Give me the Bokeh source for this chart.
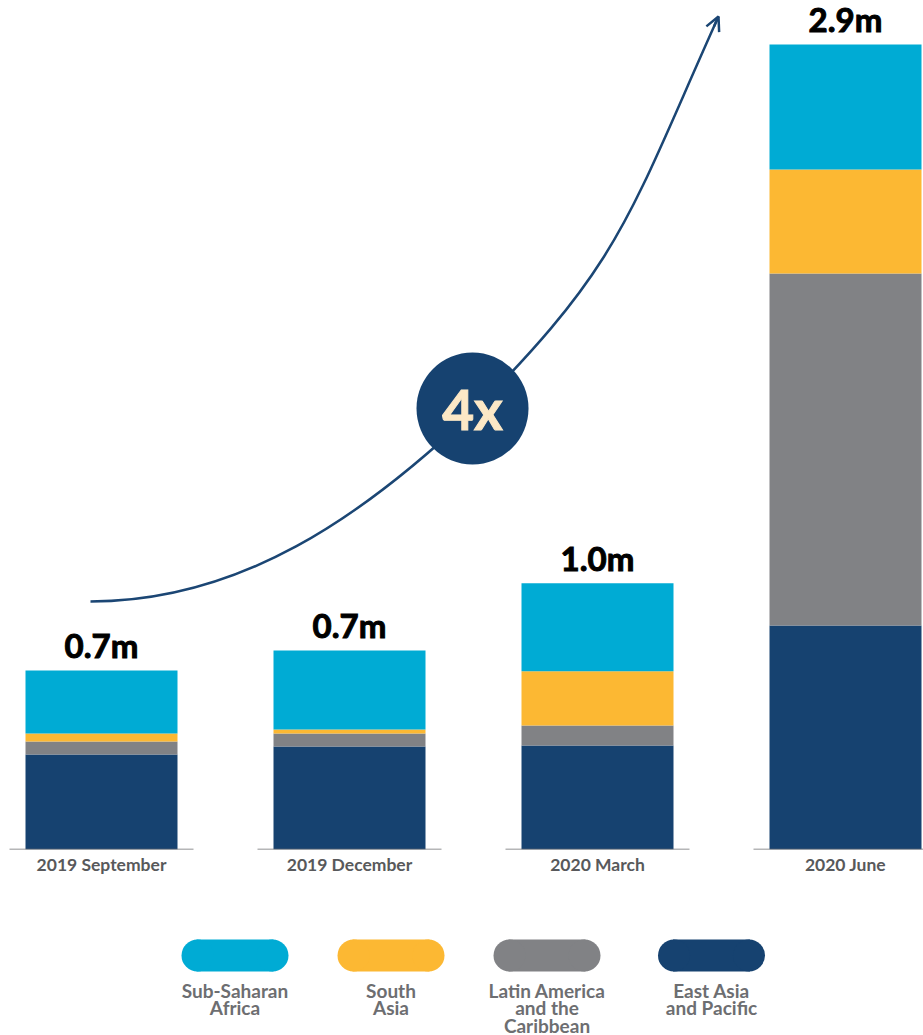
from bokeh.plotting import figure
from bokeh.models import ColumnDataSource, Range1d, FixedTicker, Arrow, OpenHead
from bokeh.layouts import column
from bokeh.core.properties import value
from bokeh.embed import file_html
from bokeh.resources import INLINE

# ---------------- data (millions) ----------------
CATEGORIES = ["2019 September", "2019 December", "2020 March", "2020 June"]
EAST_ASIA_PACIFIC = [0.342, 0.371, 0.375, 0.807]
LATIN_AMERICA_CARIB = [0.047, 0.047, 0.072, 1.268]
SOUTH_ASIA = [0.029, 0.014, 0.195, 0.375]
SUB_SAHARAN_AFRICA = [0.227, 0.285, 0.317, 0.450]
TOTAL_LABELS = ["0.7m", "0.7m", "1.0m", "2.9m"]
GROWTH_LABEL = "4x"

LEGEND_LABELS = ["Sub-Saharan\nAfrica", "South\nAsia", "Latin America\nand the\nCaribbean", "East Asia\nand Pacific"]

# growth arrow (two cubic segments, data units: category index / millions)
CURVE_A_X = [-0.0444, 0.5605, 1.0524, 1.4960]
CURVE_A_Y = [0.8934, 0.8934, 1.1978, 1.5742]
CURVE_B_X = [1.4960, 2.1008, 2.1234, 2.4879]
CURVE_B_Y = [1.5742, 2.1145, 2.2781, 3.0007]
BADGE_X = [1.496]
BADGE_Y = [1.5886]

# ---------------- styling ----------------
NAVY = "#164270"
GRAY = "#818285"
YELLOW = "#fcb833"
CYAN = "#00abd4"
LINE_NAVY = "#1b4674"
BADGE_TEXT = "#fce8c6"
AXIS_TEXT = "#58595b"
LEGEND_TEXT = "#6d6e71"

W = 923
FRAME_H = 849
MAIN_H = 889
LEG_H = 1035 - MAIN_H
PX_PER_CAT = 248.0
PX_PER_M = 277.6
FIRST_CENTER_PX = 101.0

xs = list(range(len(CATEGORIES)))
totals = [a + b + c + d for a, b, c, d in zip(EAST_ASIA_PACIFIC, LATIN_AMERICA_CARIB, SOUTH_ASIA, SUB_SAHARAN_AFRICA)]
label_gap = 25 / PX_PER_M

src = ColumnDataSource(dict(
    x=xs,
    eap=EAST_ASIA_PACIFIC,
    lac=LATIN_AMERICA_CARIB,
    sa=SOUTH_ASIA,
    ssa=SUB_SAHARAN_AFRICA,
))
lab_src = ColumnDataSource(dict(x=xs, ypos=[t + label_gap for t in totals], label=TOTAL_LABELS))

x0 = -FIRST_CENTER_PX / PX_PER_CAT
p = figure(
    width=W, height=MAIN_H,
    x_range=Range1d(x0, x0 + W / PX_PER_CAT),
    y_range=Range1d(0, FRAME_H / PX_PER_M),
    output_backend="svg", toolbar_location=None,
    y_axis_location=None, x_axis_location="below",
    min_border_left=0, min_border_right=0, min_border_top=0, min_border_bottom=MAIN_H - FRAME_H,
    outline_line_color=None,
    background_fill_color="white", border_fill_color="white",
)
p.grid.visible = False

bar_w = 152 / PX_PER_CAT
p.vbar_stack(["eap", "lac", "sa", "ssa"], x="x", width=bar_w,
             color=[NAVY, GRAY, YELLOW, CYAN], line_color=None, source=src)

# baseline segments under each bar
half_seg = 92 / PX_PER_CAT
p.segment(x0=[x - half_seg for x in xs], y0=[0] * len(xs),
          x1=[x + half_seg for x in xs], y1=[0] * len(xs),
          line_color="#6d6e71", line_width=1.5)

# total labels
p.text(x="x", y="ypos", text="label", source=lab_src,
       text_align="center", text_baseline="middle",
       text_font=value("Lato"), text_font_style="bold",
       text_font_size="33px", text_color="black", text_outline_color="black")

# growth arrow
for cx, cy in ((CURVE_A_X, CURVE_A_Y), (CURVE_B_X, CURVE_B_Y)):
    p.bezier(x0=[cx[0]], y0=[cy[0]], cx0=[cx[1]], cy0=[cy[1]],
             cx1=[cx[2]], cy1=[cy[2]], x1=[cx[3]], y1=[cy[3]],
             line_color=LINE_NAVY, line_width=2.5)
sx = CURVE_B_X[3] - 0.05 * (CURVE_B_X[3] - CURVE_B_X[2])
sy = CURVE_B_Y[3] - 0.05 * (CURVE_B_Y[3] - CURVE_B_Y[2])
p.add_layout(Arrow(end=OpenHead(size=14, line_color=LINE_NAVY, line_width=2.5),
                   x_start=sx, y_start=sy, x_end=CURVE_B_X[3], y_end=CURVE_B_Y[3],
                   line_color=LINE_NAVY, line_width=2.5))

p.scatter(x=BADGE_X, y=BADGE_Y, size=112, marker="circle", fill_color=NAVY, line_color=None)
p.text(x=BADGE_X, y=BADGE_Y, text=[GROWTH_LABEL], text_align="center", text_baseline="middle",
       text_font=value("Lato"), text_font_style="bold", text_font_size="55px",
       text_color=BADGE_TEXT, text_outline_color=BADGE_TEXT)

# x axis with category names
ax = p.xaxis[0]
ax.ticker = FixedTicker(ticks=xs)
ax.major_label_overrides = {x: c for x, c in zip(xs, CATEGORIES)}
ax.axis_line_color = None
ax.major_tick_line_color = None
ax.minor_tick_line_color = None
ax.major_tick_out = 0
ax.major_label_standoff = 4
ax.major_label_text_font = "Lato"
ax.major_label_text_font_style = "bold"
ax.major_label_text_font_size = "17.5px"
ax.major_label_text_color = AXIS_TEXT

# ---------------- legend figure ----------------
leg = figure(
    width=W, height=LEG_H,
    x_range=Range1d(0, W), y_range=Range1d(LEG_H, 0),
    output_backend="svg", toolbar_location=None,
    x_axis_location=None, y_axis_location=None,
    min_border_left=0, min_border_right=0, min_border_top=0, min_border_bottom=0,
    outline_line_color=None,
    background_fill_color="white", border_fill_color="white",
)
leg.grid.visible = False
leg_x = [234.5, 390.5, 546.5, 711.0]
leg_colors = [CYAN, YELLOW, GRAY, NAVY]
pill_w, pill_h, pill_y = 107, 32, 66
leg.rect(x=leg_x, y=[pill_y] * 4, width=pill_w - pill_h + 2, height=pill_h,
         fill_color=leg_colors, line_color=None)
leg.scatter(x=[x - (pill_w - pill_h) / 2 for x in leg_x] + [x + (pill_w - pill_h) / 2 for x in leg_x],
            y=[pill_y] * 8, size=pill_h, marker="circle",
            fill_color=leg_colors + leg_colors, line_color=None)

# legend texts, one glyph per line, 17.5px line spacing
line_x, line_y, line_t = [], [], []
for lx, lab in zip(leg_x, LEGEND_LABELS):
    for k, t in enumerate(lab.split("\n")):
        line_x.append(lx)
        line_y.append(100.5 + 17.5 * k)
        line_t.append(t)
leg.text(x=line_x, y=line_y, text=line_t, text_align="center", text_baseline="middle",
         text_font=value("Lato"), text_font_style="bold", text_font_size="19px",
         text_color=LEGEND_TEXT)

layout = column(p, leg)
open("out.html", "w").write(file_html(layout, INLINE))
